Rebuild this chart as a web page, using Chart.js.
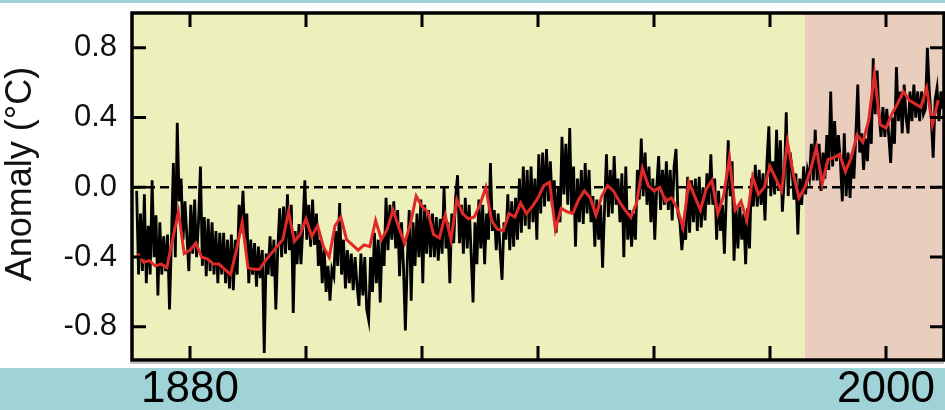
<!DOCTYPE html>
<html>
<head>
<meta charset="utf-8">
<title>Temperature anomaly</title>
<script src="https://cdn.jsdelivr.net/npm/chart.js@4.4.1/dist/chart.umd.min.js"></script>
<style>
  html, body { margin: 0; padding: 0; background: #ffffff; }
  #wrap { width: 945px; height: 410px; }
  canvas { display: block; }
</style>
</head>
<body>
<div id="wrap"><canvas id="chart" width="945" height="410"></canvas></div>
<script>
// High-resolution anomaly trace (°C): three samples per year, first sample at 1870.8
const monthlyStart = 1870.8;
const samplesPerYear = 3;
const monthlyAnomaly = [
  // 1871-1880
  -0.02,-0.50,-0.15, -0.48,-0.04,-0.55, -0.22,-0.50,0.04, -0.40,-0.16,-0.62, -0.20,-0.50,-0.28,
  -0.48,-0.27,-0.70, -0.30,0.14,-0.40, 0.37,-0.08,0.05, -0.30,-0.08,-0.28, -0.48,-0.10,-0.38,
  // 1881-1890
  -0.07,-0.40,-0.20, 0.12,-0.45,-0.17, -0.51,-0.18,-0.48, -0.20,-0.50,-0.25, -0.55,-0.26,-0.50,
  -0.26,-0.55,-0.30, -0.58,-0.27,-0.59, -0.30,-0.50,-0.10, -0.26,-0.02,-0.30, -0.15,-0.55,-0.30,
  // 1891-1900
  -0.50,-0.32,-0.57, -0.34,-0.52,-0.36, -0.95,-0.38,-0.50, -0.28,-0.51,-0.30, -0.70,-0.35,-0.12,
  -0.40,-0.11,-0.38, -0.04,-0.36,-0.10, -0.72,-0.25,-0.44, -0.21,-0.44,-0.22, 0.04,-0.30,-0.10,
  // 1901-1910
  -0.34,-0.07,-0.33, -0.15,-0.45,-0.30, -0.55,-0.35,-0.60, -0.45,-0.65,-0.47, -0.51,-0.25,-0.45,
  -0.09,-0.50,-0.30, -0.58,-0.36,-0.55, -0.38,-0.59,-0.40, -0.56,-0.68,-0.38, -0.62,-0.40,-0.70,
  // 1911-1920
  -0.76,-0.40,-0.60, -0.26,-0.55,-0.30, -0.66,-0.28,-0.45, -0.06,-0.36,-0.10, -0.30,-0.08,-0.35,
  -0.13,-0.51,-0.20, -0.45,-0.82,-0.42, -0.13,-0.65,-0.20, -0.45,-0.15,-0.40, -0.07,-0.55,-0.10,
  // 1921-1930
  -0.38,-0.13,-0.40, -0.15,-0.40,-0.17, -0.42,-0.18,-0.38, 0.00,-0.35,-0.20, -0.55,-0.15,-0.32,
  -0.05,0.07,-0.32, -0.10,-0.38,-0.06, -0.35,-0.10,-0.38, -0.66,-0.20,-0.44, -0.07,-0.35,-0.10,
  // 1931-1940
  -0.44,-0.15,-0.30, 0.14,-0.25,-0.13, -0.36,-0.15,-0.36, -0.53,-0.20,-0.30, -0.04,-0.36,-0.08,
  -0.34,-0.06,-0.30, 0.05,-0.26,0.12, -0.22,0.10,-0.24, 0.12,-0.20,0.05, -0.30,0.19,-0.15,
  // 1941-1950
  0.20,-0.11,0.22, -0.08,0.15,-0.11, 0.04,-0.26,0.00, -0.20,0.29,-0.04, 0.25,-0.10,0.34,
  -0.15,0.12,-0.34, 0.05,-0.20,0.10, -0.21,0.14,-0.15, 0.10,-0.20,-0.05, -0.34,-0.07,-0.30,
  // 1951-1960
  -0.10,-0.46,-0.13, 0.19,-0.17,0.10, -0.15,0.18,-0.10, 0.05,-0.20,0.08, -0.40,0.12,-0.30,
  -0.13,-0.34,-0.15, -0.30,0.10,-0.07, 0.28,-0.05,0.20, -0.10,0.12,-0.20, 0.05,-0.30,0.00,
  // 1961-1970
  0.18,-0.13,0.10, -0.10,0.15,-0.13, 0.10,-0.19,0.12, 0.22,-0.15,-0.20, -0.36,-0.23,-0.30,
  0.06,-0.26,0.04, -0.20,0.05,-0.25, 0.06,-0.23,0.00, -0.19,0.08,-0.10, 0.19,-0.10,0.05,
  // 1971-1980
  -0.30,-0.02,-0.25, -0.10,-0.38,-0.05, 0.27,-0.05,0.15, -0.42,-0.11,-0.35, -0.11,-0.30,-0.15,
  -0.44,-0.12,-0.35, 0.05,-0.11,0.13, -0.11,0.10,-0.10, 0.08,-0.19,0.14, 0.35,-0.05,0.15,
  // 1981-1990
  -0.04,0.33,-0.02, 0.27,-0.14,0.05, 0.43,-0.05,0.20, 0.10,-0.07,0.08, -0.27,0.05,-0.10,
  0.12,-0.04,0.10, 0.05,0.25,0.04, 0.33,0.04,0.25, -0.02,0.20,0.05, 0.30,0.10,0.55,
  // 1991-2000
  0.12,0.38,0.15, 0.30,0.15,-0.08, 0.31,-0.05,0.20, -0.06,0.19,0.05, 0.30,0.59,0.20,
  0.31,0.10,0.28, 0.15,0.40,0.25, 0.74,0.42,0.67, 0.42,0.29,0.46, 0.29,0.45,0.30,
  // 2001-2009
  0.14,0.40,0.25, 0.69,0.38,0.55, 0.31,0.59,0.40, 0.31,0.55,0.38, 0.59,0.40,0.55,
  0.38,0.55,0.42, 0.45,0.80,0.55, 0.40,0.17,0.50, 0.57,0.38,0.55,
  0.45
];

// Smoothed anomaly (°C), one value per year from 1871
const smoothStartYear = 1871;
const smoothedAnomaly = [
  -0.38,-0.43,-0.42,-0.45,-0.44,-0.46,-0.30,-0.14,-0.38,-0.36,   // 1871-1880
  -0.32,-0.40,-0.41,-0.44,-0.44,-0.47,-0.50,-0.36,-0.20,-0.46,   // 1881-1890
  -0.47,-0.47,-0.42,-0.38,-0.34,-0.30,-0.14,-0.31,-0.27,-0.18,   // 1891-1900
  -0.28,-0.22,-0.34,-0.40,-0.22,-0.17,-0.30,-0.33,-0.36,-0.33,   // 1901-1910
  -0.34,-0.19,-0.30,-0.24,-0.13,-0.23,-0.32,-0.21,-0.05,-0.11,   // 1911-1920
  -0.14,-0.27,-0.29,-0.16,-0.30,-0.07,-0.15,-0.18,-0.17,-0.10,   // 1921-1930
   0.00,-0.19,-0.24,-0.25,-0.15,-0.17,-0.09,-0.15,-0.11,-0.06,   // 1931-1940
   0.01, 0.03,-0.24,-0.12,-0.14,-0.15,-0.07,-0.02,-0.06,-0.16,   // 1941-1950
  -0.05, 0.01,-0.02,-0.08,-0.13,-0.17,-0.09, 0.11, 0.01,-0.02,   // 1951-1960
   0.00,-0.08,-0.06,-0.12,-0.23, 0.03,-0.05,-0.13,-0.01, 0.04,   // 1961-1970
  -0.15,-0.05, 0.17,-0.13,-0.08,-0.19, 0.06,-0.04, 0.00, 0.12,   // 1971-1980
   0.05,-0.02, 0.26, 0.08,-0.06, 0.00, 0.10, 0.23, 0.02, 0.16,   // 1981-1990
   0.17, 0.19, 0.09, 0.17, 0.30, 0.26, 0.38, 0.65, 0.36, 0.34,   // 1991-2000
   0.42, 0.48, 0.55, 0.50, 0.48, 0.46, 0.57, 0.36, 0.50          // 2001-2009
];

const xTickYears = [1880, 1900, 1920, 1940, 1960, 1980, 2000];
const xLabelYears = [1880, 2000];
const yTickValues = [-0.8, -0.4, 0, 0.4, 0.8];
const yearRange = [1870, 2010];
const anomalyRange = [-0.99, 1.0];
const recentPeriodStart = 1986;   // start of the shaded recent period

const COLORS = {
  band: '#9fd3d8',
  early: '#edf0bb',
  recent: '#e9cdbd',
  trace: '#000000',
  smooth: '#e02a2a',
  ink: '#111111'
};
const FONT = '"Liberation Sans", Arial, Helvetica, sans-serif';

const tracePoints = monthlyAnomaly.map((v, i) => ({ x: monthlyStart + i / samplesPerYear, y: v }));
const smoothPoints = smoothedAnomaly.map((v, i) => ({ x: smoothStartYear + i, y: v }));

// Page bands, period shading and the zero reference line
const backdrop = {
  id: 'backdrop',
  beforeDraw(chart) {
    const { ctx, chartArea: a, scales: { x } } = chart;
    ctx.save();
    ctx.fillStyle = '#ffffff';
    ctx.fillRect(0, 0, chart.width, chart.height);
    ctx.fillStyle = COLORS.band;
    ctx.fillRect(0, 0, chart.width, 3);
    ctx.fillRect(0, a.bottom + 8, chart.width, chart.height - a.bottom - 8);
    const split = x.getPixelForValue(recentPeriodStart);
    ctx.fillStyle = COLORS.early;
    ctx.fillRect(a.left, a.top, split - a.left, a.bottom - a.top);
    ctx.fillStyle = COLORS.recent;
    ctx.fillRect(split, a.top, a.right - split, a.bottom - a.top);
    // faint shadow under the bottom frame
    ctx.fillStyle = '#c4c4c4';
    ctx.fillRect(a.left - 2, a.bottom + 2, a.right - a.left + 2, 2);
    ctx.restore();
  },
  beforeDatasetsDraw(chart) {
    const { ctx, chartArea: a, scales: { y } } = chart;
    const y0 = y.getPixelForValue(0);
    ctx.save();
    ctx.strokeStyle = '#000';
    ctx.lineWidth = 2.5;
    ctx.setLineDash([9, 5]);
    ctx.beginPath();
    ctx.moveTo(a.left, y0);
    ctx.lineTo(a.right, y0);
    ctx.stroke();
    ctx.restore();
  }
};

// Box frame with inward-pointing ticks on all four sides
const frame = {
  id: 'frame',
  afterDatasetsDraw(chart) {
    const { ctx, chartArea: a, scales: { x, y } } = chart;
    const len = 14;
    ctx.save();
    ctx.strokeStyle = '#000';
    ctx.lineWidth = 3;
    ctx.beginPath();
    x.ticks.forEach(t => {
      const px = x.getPixelForValue(t.value);
      ctx.moveTo(px, a.bottom); ctx.lineTo(px, a.bottom - len);
      ctx.moveTo(px, a.top); ctx.lineTo(px, a.top + len);
    });
    y.ticks.forEach(t => {
      const py = y.getPixelForValue(t.value);
      ctx.moveTo(a.left, py); ctx.lineTo(a.left + len, py);
      ctx.moveTo(a.right, py); ctx.lineTo(a.right - len, py);
    });
    ctx.stroke();
    ctx.lineWidth = 3.5;
    ctx.strokeRect(a.left, a.top, a.right - a.left, a.bottom - a.top);
    ctx.restore();
  },
  afterDraw(chart) {
    const { ctx } = chart;
    ctx.save();
    ctx.fillStyle = COLORS.ink;
    ctx.font = '36px ' + FONT;
    ctx.textAlign = 'center';
    ctx.textBaseline = 'middle';
    ctx.translate(21, 174);
    ctx.rotate(-Math.PI / 2);
    ctx.fillText('Anomaly (°C)', 0, 0);
    ctx.restore();
  }
};

new Chart(document.getElementById('chart'), {
  type: 'line',
  data: {
    datasets: [
      {
        label: 'Smoothed',
        data: smoothPoints,
        borderColor: COLORS.smooth,
        borderWidth: 3,
        pointRadius: 0,
        tension: 0,
        fill: false,
        order: 0
      },
      {
        label: 'Monthly',
        data: tracePoints,
        borderColor: COLORS.trace,
        borderWidth: 2.8,
        pointRadius: 0,
        tension: 0,
        fill: false,
        order: 1
      }
    ]
  },
  options: {
    responsive: false,
    animation: false,
    devicePixelRatio: 1,
    parsing: false,
    normalized: true,
    layout: { padding: { top: 13, right: 1, left: 0, bottom: 0 } },
    plugins: { legend: { display: false }, tooltip: { enabled: false } },
    scales: {
      x: {
        type: 'linear',
        min: yearRange[0],
        max: yearRange[1],
        afterFit: s => { s.height = 50; s.paddingLeft = 0; s.paddingRight = 0; },
        afterBuildTicks: s => { s.ticks = xTickYears.map(v => ({ value: v })); },
        grid: { display: false, drawTicks: false },
        border: { display: false },
        ticks: {
          autoSkip: false,
          maxRotation: 0,
          padding: 3,
          color: '#000',
          font: { family: FONT, size: 44 },
          callback: v => xLabelYears.includes(v) ? String(v) : ''
        }
      },
      y: {
        min: anomalyRange[0],
        max: anomalyRange[1],
        afterFit: s => { s.width = 132; s.paddingTop = 0; s.paddingBottom = 0; },
        afterBuildTicks: s => { s.ticks = yTickValues.map(v => ({ value: v })); },
        grid: { display: false, drawTicks: false },
        border: { display: false },
        ticks: {
          padding: 15,
          color: COLORS.ink,
          font: { family: FONT, size: 31 },
          callback: v => Number(v).toFixed(1)
        }
      }
    }
  },
  plugins: [backdrop, frame]
});
</script>
</body>
</html>
